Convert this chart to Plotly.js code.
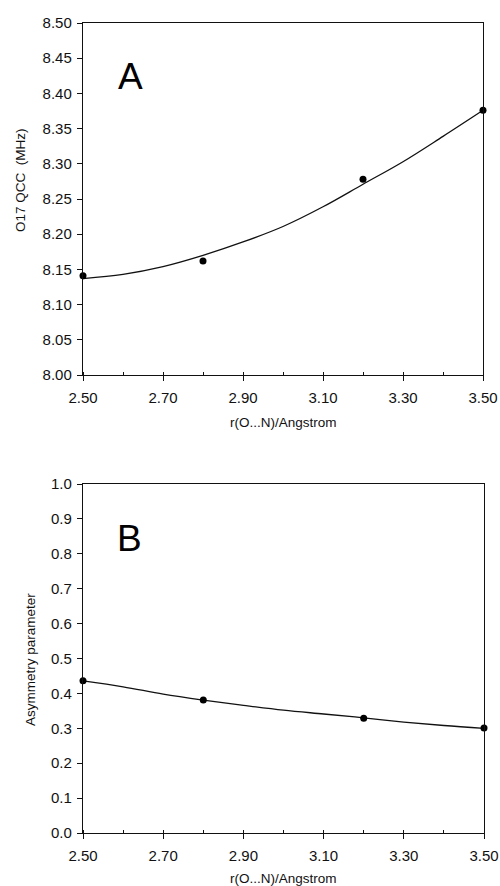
<!DOCTYPE html>
<html>
<head>
<meta charset="utf-8">
<script src="https://cdn.plot.ly/plotly-3.0.1.min.js"></script>
<style>html,body{margin:0;padding:0;background:#fff;}#chart{width:500px;height:886px;}</style>
</head>
<body>
<div id="chart"></div>
<script>
// Panel A: O17 QCC (MHz)
const xPoints = [2.50, 2.80, 3.20, 3.50];
const qccPoints = [8.141, 8.162, 8.278, 8.376];
const xCurve = [2.50, 2.60, 2.70, 2.80, 2.90, 3.00, 3.10, 3.20, 3.30, 3.40, 3.50];
const qccCurve = [8.137, 8.143, 8.154, 8.170, 8.189, 8.211, 8.239, 8.271, 8.303, 8.339, 8.376];
// Panel B: Asymmetry parameter
const etaPoints = [0.436, 0.381, 0.329, 0.301];
const etaCurve = [0.436, 0.419, 0.398, 0.381, 0.366, 0.352, 0.341, 0.330, 0.318, 0.308, 0.300];
const xTicks = [2.50, 2.70, 2.90, 3.10, 3.30, 3.50];
const xTickText = ["2.50", "2.70", "2.90", "3.10", "3.30", "3.50"];
const qccTicks = [8.00, 8.05, 8.10, 8.15, 8.20, 8.25, 8.30, 8.35, 8.40, 8.45, 8.50];
const etaTicks = [0.0, 0.1, 0.2, 0.3, 0.4, 0.5, 0.6, 0.7, 0.8, 0.9, 1.0];

const fam = "Liberation Sans, Arial, sans-serif";
const tickFont = {family: fam, size: 15, color: "#111"};
const titleFont = {family: fam, size: 13.5, color: "#111"};
const lineStyle = {color: "#111", width: 1.3, shape: "spline", smoothing: 1};
const markerStyle = {color: "#000", size: 7, symbol: "circle"};

const traces = [
  {x: xCurve, y: qccCurve, mode: "lines", line: lineStyle, xaxis: "x", yaxis: "y", hoverinfo: "skip"},
  {x: xPoints, y: qccPoints, mode: "markers", marker: markerStyle, xaxis: "x", yaxis: "y", cliponaxis: false},
  {x: xCurve, y: etaCurve, mode: "lines", line: lineStyle, xaxis: "x2", yaxis: "y2", hoverinfo: "skip"},
  {x: xPoints, y: etaPoints, mode: "markers", marker: markerStyle, xaxis: "x2", yaxis: "y2", cliponaxis: false}
];

function xAxis(domain, anchor) {
  return {
    domain: domain, anchor: anchor, range: [2.5, 3.5],
    tickmode: "array", tickvals: xTicks, ticktext: xTickText,
    ticks: "outside", ticklen: 5, tickwidth: 1, tickcolor: "#111",
    ticklabelstandoff: 4,
    minor: {dtick: 0.1, tick0: 2.5, ticks: "inside", ticklen: 3, tickcolor: "#111"},
    showline: true, linecolor: "#111", linewidth: 1.2, mirror: true,
    showgrid: false, zeroline: false, tickfont: tickFont, fixedrange: true
  };
}
function yAxis(domain, anchor, range, vals, fmt) {
  return {
    domain: domain, anchor: anchor, range: range,
    tickmode: "array", tickvals: vals, ticktext: vals.map(v => v.toFixed(fmt)),
    ticks: "outside", ticklen: 5, tickwidth: 1, tickcolor: "#111",
    ticklabelstandoff: 2,
    showline: true, linecolor: "#111", linewidth: 1.2, mirror: true,
    showgrid: false, zeroline: false, tickfont: tickFont, fixedrange: true
  };
}

function ann(text, x, y, f, angle) {
  return {text: text, xref: "paper", yref: "paper", x: x, y: y, xanchor: "center", yanchor: "middle",
          textangle: angle || 0, showarrow: false, font: f};
}

const layout = {
  width: 500, height: 886,
  margin: {l: 0, r: 0, t: 0, b: 0},
  paper_bgcolor: "#fff", plot_bgcolor: "#fff",
  showlegend: false,
  font: titleFont,
  xaxis: xAxis([0.166, 0.966], "y"),
  yaxis: yAxis([0.5767, 0.974], "x", [8.0, 8.5], qccTicks, 2),
  xaxis2: xAxis([0.166, 0.968], "y2"),
  yaxis2: yAxis([0.0598, 0.4537], "x2", [0, 1.0], etaTicks, 1),
  annotations: [
    ann("A", 0.26, 0.9131, {family: fam, size: 37, color: "#000"}),
    ann("B", 0.258, 0.3921, {family: fam, size: 37, color: "#000"}),
    ann("r(O...N)/Angstrom", 0.566, 0.5226, titleFont),
    ann("r(O...N)/Angstrom", 0.566, 0.0085, titleFont),
    ann("O17 QCC  (MHz)", 0.04, 0.7968, titleFont, -90),
    ann("Asymmetry parameter", 0.062, 0.2551, titleFont, -90)
  ]
};

Plotly.newPlot("chart", traces, layout, {displayModeBar: false, staticPlot: true});
</script>
</body>
</html>
